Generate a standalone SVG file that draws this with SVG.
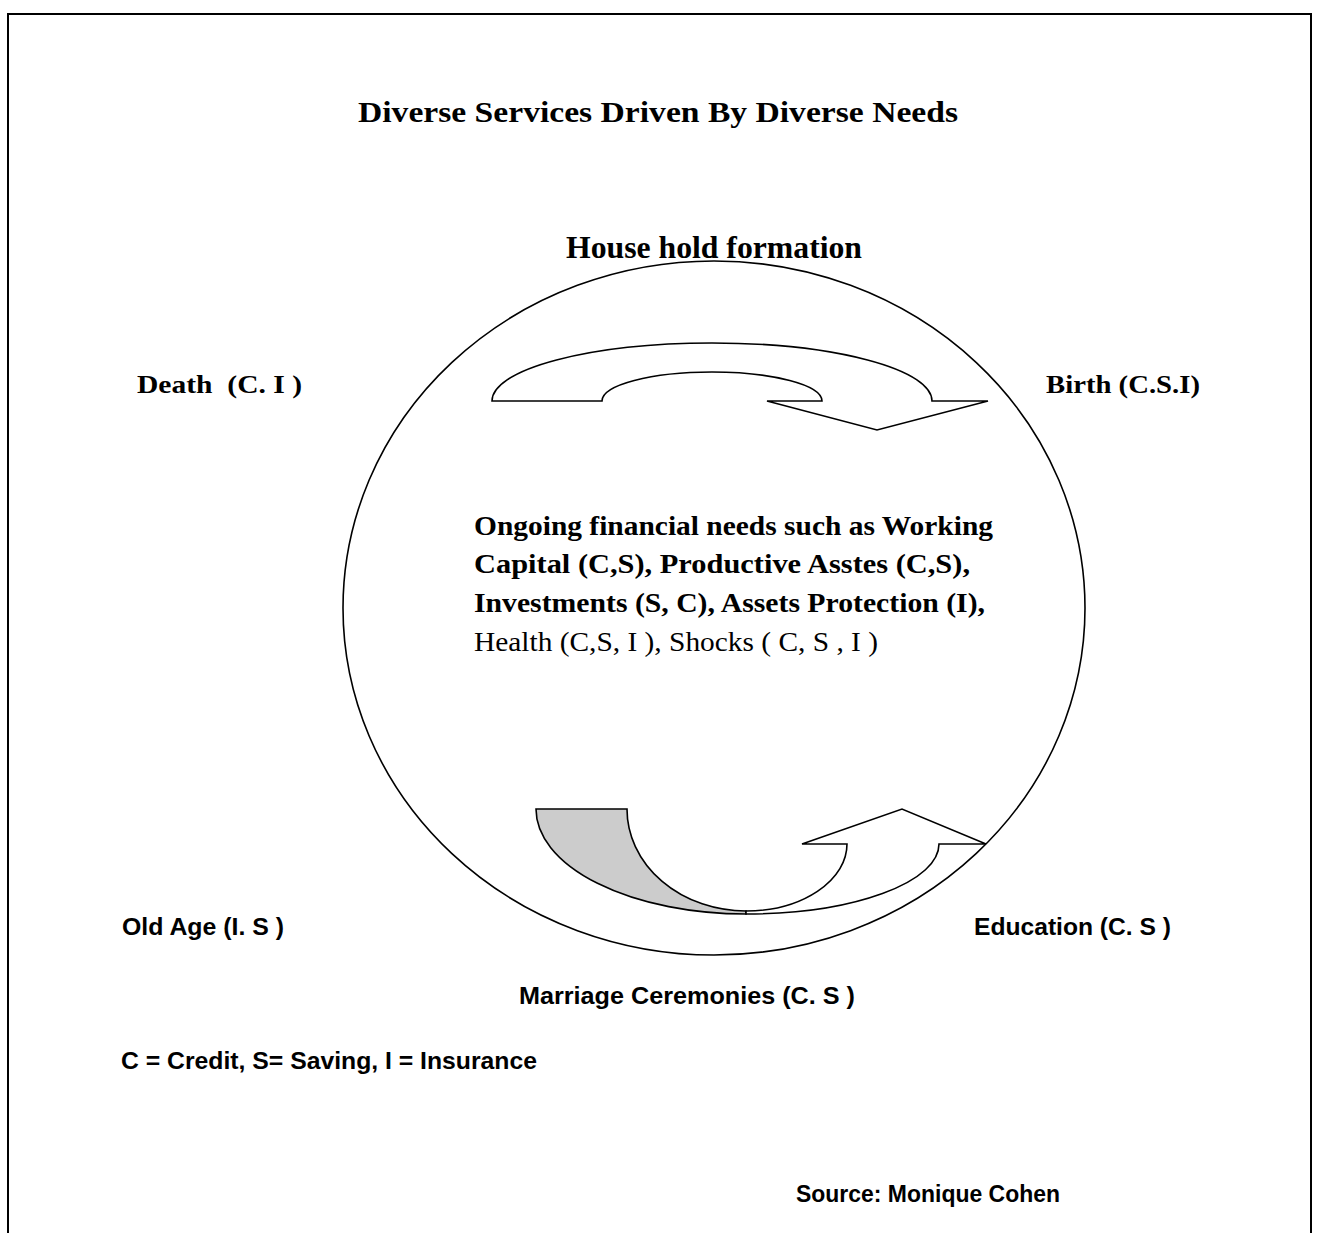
<svg xmlns="http://www.w3.org/2000/svg" width="1317" height="1233" viewBox="0 0 1317 1233">
<style>
.serif{font-family:"Liberation Serif","Times New Roman",serif;fill:#000}
.sans{font-family:"Liberation Sans",Arial,sans-serif;font-weight:bold;fill:#000}
.b{font-weight:bold}
.shape{stroke:#000;stroke-width:1.6;stroke-linejoin:miter}
</style>
<rect width="1317" height="1233" fill="#fff"/>
<g id="frame">
<path d="M8,1233 L8,14 L1311,14 L1311,1233" fill="none" stroke="#000" stroke-width="2"/>
</g>
<g id="cycle">
<ellipse cx="714" cy="608" rx="371" ry="347" fill="none" stroke="#000" stroke-width="1.6"/>
</g>
<g id="connectors">
<path class="shape" fill="#fff" d="M492,401 L602,401 A110,29 0 0 1 822,401 L767,401 L877,430 L988,401 L932,401 A220,58 0 0 0 492,401 Z"/>
<path class="shape" fill="#cccccc" d="M536,809 L627,809 A119,102 0 0 0 746,911 L746,914 A210,105 0 0 1 536,809 Z"/>
<path class="shape" fill="#fff" d="M746,911 A101,67 0 0 0 847,844 L802,844 L902,809 L986,844 L939,844 A193,70 0 0 1 746,914 Z"/>
</g>
<g id="title"><text class="serif b" x="358" y="122" font-size="30" textLength="600" lengthAdjust="spacingAndGlyphs">Diverse Services Driven By Diverse Needs</text></g>
<g id="household"><text class="serif b" x="566" y="258" font-size="31" textLength="296" lengthAdjust="spacingAndGlyphs">House hold formation</text></g>
<g id="death"><text class="serif b" x="137" y="393" font-size="26" xml:space="preserve" textLength="165" lengthAdjust="spacingAndGlyphs">Death  (C. I )</text></g>
<g id="birth"><text class="serif b" x="1046" y="393" font-size="26" textLength="154" lengthAdjust="spacingAndGlyphs">Birth (C.S.I)</text></g>
<g id="ongoing">
<text class="serif b" x="474" y="535" font-size="27.5" textLength="519" lengthAdjust="spacingAndGlyphs">Ongoing financial needs such as Working</text>
<text class="serif b" x="474" y="573" font-size="27.5" textLength="496" lengthAdjust="spacingAndGlyphs">Capital (C,S), Productive Asstes (C,S),</text>
<text class="serif b" x="474" y="612" font-size="27.5" textLength="511" lengthAdjust="spacingAndGlyphs">Investments (S, C), Assets Protection (I),</text>
<text class="serif" x="474" y="651" font-size="27.5" textLength="404" lengthAdjust="spacingAndGlyphs">Health (C,S, I ), Shocks ( C, S , I )</text>
</g>
<g id="oldage"><text class="sans" x="122" y="935" font-size="24" textLength="162" lengthAdjust="spacingAndGlyphs">Old Age (I. S )</text></g>
<g id="education"><text class="sans" x="974" y="935" font-size="24" textLength="197" lengthAdjust="spacingAndGlyphs">Education (C. S )</text></g>
<g id="marriage"><text class="sans" x="519" y="1004" font-size="24" textLength="336" lengthAdjust="spacingAndGlyphs">Marriage Ceremonies (C. S )</text></g>
<g id="legend"><text class="sans" x="121" y="1069" font-size="24" textLength="416" lengthAdjust="spacingAndGlyphs">C = Credit, S= Saving, I = Insurance</text></g>
<g id="source"><text class="sans" x="796" y="1202" font-size="24" textLength="264" lengthAdjust="spacingAndGlyphs">Source: Monique Cohen</text></g>
</svg>
